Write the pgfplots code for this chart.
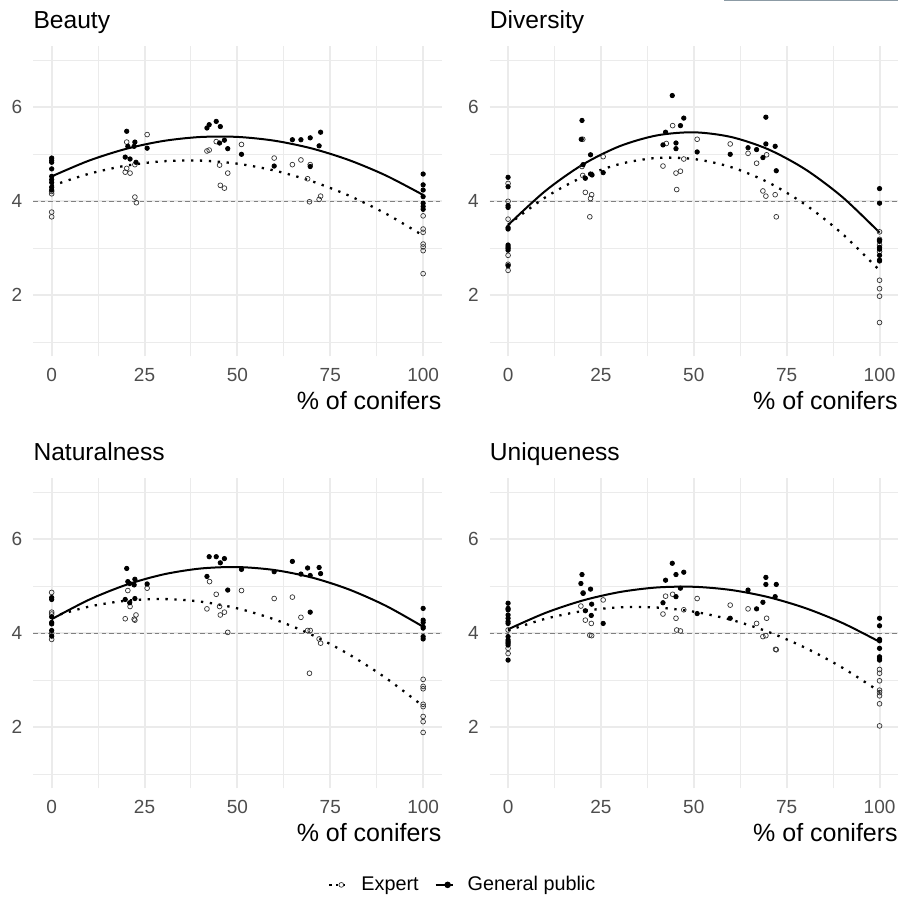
\documentclass[border=0pt]{standalone}
\usepackage{fontspec}
\setmainfont{Liberation Sans}
\usepackage{pgfplots}
\pgfplotsset{compat=1.18}
\definecolor{gridc}{HTML}{EBEBEB}
\definecolor{tickc}{HTML}{4D4D4D}
\definecolor{refc}{HTML}{808080}
\definecolor{topc}{RGB}{140,155,165}
\pgfplotsset{
  panel/.style={
    scale only axis, width=204.3pt, height=155.1pt,
    xmin=-5, xmax=105, ymin=0.7, ymax=7.3,
    xtick={0,25,50,75,100}, ytick={2,4,6},
    minor xtick={12.5,37.5,62.5,87.5}, minor ytick={1,3,5,7},
    grid=both,
    major grid style={draw=gridc, line width=1pt},
    minor grid style={draw=gridc, line width=0.5pt},
    axis line style={draw=none},
    major tick length=0pt, minor tick length=0pt,
    tick label style={font=\fontsize{9.5}{11}\selectfont, text=tickc},
    xticklabel style={anchor=north, inner sep=0pt, yshift=-5.8pt},
    yticklabel style={anchor=east, inner sep=0pt, xshift=-5.2pt},
    /pgf/number format/assume math mode=true,
    every axis title shift=0pt,
    title style={at={(0,1)}, anchor=base west, yshift=9pt, inner sep=0pt, font=\fontsize{12.3}{14}\selectfont},
    xlabel={\% of conifers},
    xlabel style={at={(1,0)}, anchor=base east, yshift=-26.8pt, inner sep=0pt, font=\fontsize{12.5}{14}\selectfont},
  },
  expt/.style={only marks, mark=o, mark size=1.2pt, mark options={line width=0.35pt, draw=black!80}, forget plot},
  pub/.style={only marks, mark=*, mark size=1.1pt, mark options={draw=black, fill=black}, forget plot},
  expline/.style={black, line width=1.15pt, dash pattern=on 1.15pt off 3.3pt, smooth, no marks, forget plot},
  publine/.style={black, line width=1pt, smooth, no marks, forget plot},
  refline/.style={refc, line width=0.5pt, dash pattern=on 2.2pt off 1.6pt, no marks, forget plot},
}
\begin{document}
\begin{tikzpicture}
\useasboundingbox (0,0) rectangle (449pt,449pt);
\draw[topc, line width=0.6pt] (362pt,449pt) -- (449pt,449pt);

% ---------------- Beauty ----------------
\begin{axis}[panel, at={(16.55pt,270.8pt)}, anchor=south west, title={Beauty}]
\addplot[refline] coordinates {(-5,4) (105,4)};
\addplot[expt] coordinates {(0,4.16)(0,4.21)(0,3.77)(0,3.67)(20.2,5.26)(20.2,4.70)(19.8,4.62)(21.1,4.60)(22.4,4.78)(22.4,4.09)(22.8,3.97)(25.7,5.42)(41.8,5.07)(42.4,5.09)(44.3,5.27)(45.2,4.77)(45.4,4.34)(46.5,4.28)(47.4,4.60)(51.1,5.21)(59.9,4.92)(64.8,4.78)(67.1,4.88)(69.6,4.78)(68.9,4.48)(69.4,3.99)(72.0,4.04)(72.4,4.11)(100,3.69)(100,3.41)(100,3.34)(100,3.09)(100,3.03)(100,2.95)(100,2.46)};
\addplot[pub] coordinates {(0,4.92)(0,4.87)(0,4.83)(0,4.69)(0,4.53)(0,4.46)(0,4.40)(0,4.30)(0,4.24)(20.2,5.49)(20.5,5.17)(19.8,4.94)(21.1,4.90)(22.4,5.26)(22.2,5.17)(22.7,4.83)(25.7,5.13)(41.8,5.56)(42.4,5.63)(44.3,5.70)(45.4,5.59)(45.2,5.24)(46.5,5.30)(47.4,5.12)(51.1,5.00)(59.9,4.75)(64.8,5.31)(67.1,5.31)(69.6,5.35)(69.6,4.74)(72.0,5.18)(72.4,5.47)(100,4.58)(100,4.35)(100,4.24)(100,4.10)(100,3.96)(100,3.89)(100,3.83)};
\addplot[expline] coordinates {(0,4.330)(10,4.584)(20,4.758)(30,4.852)(40,4.866)(50,4.800)(60,4.654)(70,4.428)(80,4.122)(90,3.736)(100,3.270)};
\addplot[publine] coordinates {(0,4.530)(10,4.864)(20,5.115)(30,5.283)(40,5.368)(50,5.370)(60,5.289)(70,5.125)(80,4.878)(90,4.548)(100,4.135)};
\end{axis}

% ---------------- Diversity ----------------
\begin{axis}[panel, at={(244.75pt,270.8pt)}, anchor=south west, title={Diversity}]
\addplot[refline] coordinates {(-5,4) (105,4)};
\addplot[expt] coordinates {(0,4.38)(0,4.00)(0,3.62)(0,3.03)(0,2.85)(0,2.66)(0,2.53)(20.1,5.32)(19.9,4.74)(20.1,4.55)(20.8,4.19)(22.5,4.14)(22.2,4.06)(22.0,3.67)(25.6,4.95)(44.3,5.61)(42.6,5.23)(41.7,4.75)(45.2,4.60)(46.4,4.64)(47.3,4.90)(45.4,4.25)(50.9,5.32)(59.8,5.22)(64.6,5.02)(66.9,4.81)(69.6,4.99)(68.6,4.22)(69.4,4.11)(71.9,4.14)(72.2,3.67)(100,3.35)(100,3.19)(100,3.07)(100,2.93)(100,2.32)(100,2.14)(100,1.98)(100,1.42)};
\addplot[pub] coordinates {(0,4.51)(0,4.31)(0,3.91)(0,3.87)(0,3.44)(0,3.41)(0,3.07)(0,3.00)(0,2.96)(0,2.63)(19.9,5.72)(19.7,5.32)(20.2,4.78)(20.8,4.49)(22.2,4.99)(22.2,4.58)(22.6,4.56)(25.6,4.61)(44.2,6.25)(42.4,5.47)(41.7,5.20)(45.2,5.24)(45.2,5.12)(46.4,5.61)(47.3,5.77)(50.9,5.05)(59.8,5.00)(64.6,5.14)(66.9,5.10)(68.6,4.93)(69.4,5.79)(69.4,5.22)(71.9,5.17)(72.2,4.65)(100,4.27)(100,3.96)(100,3.17)(100,3.15)(100,3.02)(100,2.98)(100,2.85)(100,2.75)(100,2.73)};
\addplot[expline] coordinates {(0,3.500)(10,4.082)(20,4.512)(30,4.792)(40,4.922)(50,4.900)(60,4.728)(70,4.404)(80,3.930)(90,3.306)(100,2.530)};
\addplot[publine] coordinates {(0,3.495)(10,4.218)(20,4.777)(30,5.171)(40,5.401)(50,5.468)(60,5.369)(70,5.107)(80,4.681)(90,4.090)(100,3.335)};
\end{axis}

% ---------------- Naturalness ----------------
\begin{axis}[panel, at={(16.55pt,54.8pt)}, anchor=south west, title={Naturalness},
  legend columns=2,
  legend style={at={(1.054,-0.311)}, anchor=center, draw=none, fill=none,
    font=\fontsize{9.9}{11}\selectfont, inner sep=0pt,
    /tikz/every odd column/.append style={column sep=5pt},
    /tikz/every even column/.append style={column sep=6pt}},
  legend cell align=left,
  legend image code/.code={\draw[#1, mark=none] (0pt,0pt) -- (8.5pt,0pt); \draw[#1, solid] plot coordinates {(6pt,0pt)};}
  ]
\addlegendimage{black, line width=1.1pt, dash pattern=on 1.1pt off 2.2pt, mark=o, mark size=1.2pt, mark options={line width=0.35pt, draw=black!80, solid}}
\addlegendentry{Expert}
\addlegendimage{black, line width=1pt, mark=*, mark size=1.1pt}
\addlegendentry{General public}
\addplot[refline] coordinates {(-5,4) (105,4)};
\addplot[expt] coordinates {(0,4.87)(0,4.45)(0,4.41)(0,4.00)(0,3.87)(20.5,4.91)(21.1,4.57)(19.8,4.31)(22.7,4.39)(22.4,4.28)(22.2,4.30)(25.7,4.96)(42.5,5.10)(44.3,4.83)(41.8,4.52)(45.2,4.57)(45.4,4.39)(46.5,4.45)(47.4,4.02)(51.1,4.91)(59.9,4.74)(64.8,4.77)(67.1,4.34)(68.9,4.06)(69.6,4.06)(69.4,3.15)(72.0,3.88)(72.4,3.79)(100,3.02)(100,2.87)(100,2.82)(100,2.49)(100,2.44)(100,2.23)(100,2.12)(100,1.89)};
\addplot[pub] coordinates {(0,4.76)(0,4.72)(0,4.35)(0,4.23)(0,4.20)(0,4.06)(0,3.94)(20.2,5.38)(20.5,5.10)(21.0,5.06)(19.8,4.72)(21.0,4.65)(22.4,5.15)(22.2,5.03)(22.4,4.74)(25.7,5.05)(42.4,5.63)(44.3,5.63)(46.5,5.59)(45.4,5.50)(41.8,5.21)(47.4,4.92)(51.1,5.36)(59.9,5.31)(64.8,5.53)(67.1,5.26)(68.9,5.39)(69.6,5.23)(69.6,4.45)(72.0,5.40)(72.4,5.27)(100,4.53)(100,4.28)(100,4.23)(100,4.14)(100,4.11)(100,3.93)(100,3.88)};
\addplot[expline] coordinates {(0,4.350)(10,4.567)(20,4.693)(30,4.729)(40,4.675)(50,4.530)(60,4.295)(70,3.969)(80,3.553)(90,3.047)(100,2.450)};
\addplot[publine] coordinates {(0,4.300)(10,4.712)(20,5.030)(30,5.252)(40,5.378)(50,5.410)(60,5.346)(70,5.188)(80,4.934)(90,4.584)(100,4.140)};
\end{axis}

% ---------------- Uniqueness ----------------
\begin{axis}[panel, at={(244.75pt,54.8pt)}, anchor=south west, title={Uniqueness}]
\addplot[refline] coordinates {(-5,4) (105,4)};
\addplot[expt] coordinates {(0,4.07)(0,3.82)(0,3.68)(0,3.57)(20.2,4.86)(19.6,4.58)(20.8,4.28)(22.4,4.21)(22.0,3.96)(22.5,3.95)(25.6,4.71)(44.3,4.83)(42.4,4.79)(41.7,4.41)(45.2,4.32)(47.3,4.50)(45.4,4.07)(46.4,4.05)(50.9,4.74)(59.8,4.60)(64.6,4.52)(66.9,4.21)(69.6,4.32)(68.6,3.93)(69.4,3.95)(72.0,3.66)(72.2,3.65)(100,3.23)(100,3.15)(100,2.99)(100,2.79)(100,2.74)(100,2.67)(100,2.50)(100,2.03)};
\addplot[pub] coordinates {(0,4.64)(0,4.53)(0,4.50)(0,4.39)(0,4.32)(0,4.25)(0,4.21)(0,3.93)(0,3.86)(0,3.79)(0,3.75)(0,3.43)(19.9,5.25)(19.6,5.06)(20.2,4.85)(20.8,4.48)(22.2,4.94)(22.5,4.62)(22.4,4.38)(25.6,4.21)(44.2,5.49)(42.4,5.13)(45.2,5.25)(47.3,5.30)(46.4,4.96)(41.7,4.65)(45.2,4.78)(50.9,4.42)(59.8,4.32)(64.6,4.92)(66.9,4.52)(68.6,4.66)(69.4,5.19)(69.4,5.04)(72.2,5.04)(71.9,4.78)(100,4.32)(100,4.16)(100,3.87)(100,3.84)(100,3.68)(100,3.50)(100,3.47)(100,3.43)};
\addplot[expline] coordinates {(0,4.060)(10,4.308)(20,4.472)(30,4.552)(40,4.548)(50,4.460)(60,4.288)(70,4.032)(80,3.692)(90,3.268)(100,2.760)};
\addplot[publine] coordinates {(0,4.085)(10,4.432)(20,4.696)(30,4.877)(40,4.975)(50,4.990)(60,4.922)(70,4.771)(80,4.537)(90,4.220)(100,3.820)};
\end{axis}
\end{tikzpicture}
\end{document}
